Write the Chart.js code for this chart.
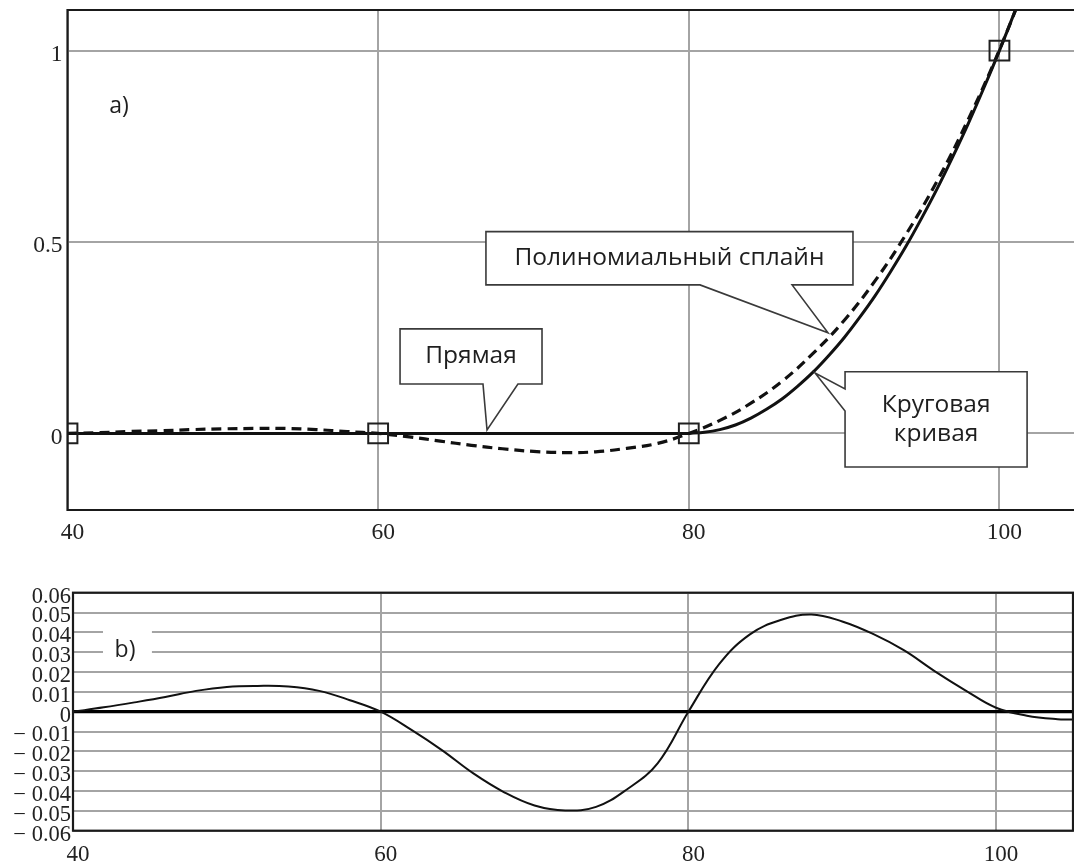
<!DOCTYPE html>
<html>
<head>
<meta charset="utf-8">
<script src="https://cdn.jsdelivr.net/npm/chart.js@4.4.1/dist/chart.umd.min.js"></script>
<style>
  html, body { margin: 0; padding: 0; background: #fff; overflow: hidden; }
  canvas { position: absolute; left: 0; }
  #top { top: 0; }
  #bottom { top: 560px; }
</style>
</head>
<body>
<canvas id="top" width="1074" height="560"></canvas>
<canvas id="bottom" width="1074" height="307"></canvas>
<script>
// ---------- data (a) ----------
const knotX = [40, 60, 80, 100];
const knotY = [0, 0, 0, 1];

const lineX = [40, 60, 80];           // Прямая
const lineY = [0, 0, 0];

const arcX = [80, 81, 82, 83, 84, 85, 86, 87, 88, 89, 90, 91, 92, 93, 94, 95, 96, 97, 98, 99, 100, 101, 102];   // Круговая кривая
const arcY = [0, 0.003, 0.010, 0.022, 0.040, 0.063, 0.090, 0.123, 0.160, 0.203, 0.250, 0.303, 0.360, 0.423, 0.490, 0.563, 0.640, 0.723, 0.810, 0.903, 1.000, 1.103, 1.210];

const splineX = [40, 42, 44, 46, 48, 50, 52, 54, 56, 58, 60, 62, 64, 66, 68, 70, 72, 74, 76, 78, 80, 82, 84, 86, 88, 90, 92, 94, 96, 98, 100, 102];   // Полиномиальный сплайн
const splineY = [0, 0.002, 0.005, 0.007, 0.010, 0.012, 0.013, 0.013, 0.010, 0.005, 0, -0.009, -0.020, -0.031, -0.040, -0.047, -0.050, -0.048, -0.039, -0.026, 0, 0.034, 0.079, 0.136, 0.209, 0.295, 0.399, 0.521, 0.660, 0.821, 1.002, 1.205];

// ---------- data (b) ----------
const diffX = [40, 42, 44, 46, 48, 50, 52, 54, 56, 58, 60, 62, 64, 66, 68, 70, 72, 74, 76, 78, 80, 82, 84, 86, 88, 90, 92, 94, 96, 98, 100, 102, 104, 105];
const diffY = [0, 0.0022, 0.0047, 0.0074, 0.0105, 0.0125, 0.0130, 0.0127, 0.0105, 0.0058, 0, -0.0092, -0.0195, -0.0310, -0.0405, -0.0473, -0.0498, -0.0480, -0.0392, -0.0260, 0, 0.0240, 0.0390, 0.0462, 0.0490, 0.0455, 0.0392, 0.0310, 0.0205, 0.0108, 0.0020, -0.0020, -0.0038, -0.0039];

// ---------- ticks ----------
const topXTicks = [40, 60, 80, 100];
const topYTicks = [0, 0.5, 1];
const topYLabels = ['0', '0.5', '1'];
const botXTicks = [40, 60, 80, 100];
const botYTicks = [-0.06, -0.05, -0.04, -0.03, -0.02, -0.01, 0, 0.01, 0.02, 0.03, 0.04, 0.05, 0.06];
const botYLabels = ['\u2212 0.06', '\u2212 0.05', '\u2212 0.04', '\u2212 0.03', '\u2212 0.02', '\u2212 0.01', '0', '0.01', '0.02', '0.03', '0.04', '0.05', '0.06'];

// ---------- annotations (data coordinates of plot a) ----------
const callouts = [
  { text: ['Полиномиальный сплайн'], box: [66.94, 0.527, 90.57, 0.388], side: 'bottom', base: [80.72, 86.65], tip: [88.96, 0.263] },
  { text: ['Прямая'], box: [61.41, 0.273, 70.55, 0.129], side: 'bottom', base: [66.75, 69.0], tip: [67.01, 0.009] },
  { text: ['Круговая', 'кривая'], box: [90.06, 0.161, 101.78, -0.0876], side: 'left', base: [0.1163, 0.0588], tip: [88.13, 0.158] }
];

const pts = (xs, ys) => xs.map((x, i) => ({ x: x, y: ys[i] }));
const serif = 'Liberation Serif';
const sans = 'Open Sans';
const GRID = '#a4a4a4';
const noPad = s => { s.paddingLeft = 0; s.paddingRight = 0; s.paddingTop = 0; s.paddingBottom = 0; };

const topPlugin = {
  id: 'topDecor',
  afterDatasetsDraw(chart) {
    const { ctx, chartArea: a, scales: { x, y } } = chart;
    const X = v => x.getPixelForValue(v), Y = v => y.getPixelForValue(v);
    ctx.save();
    // frame (left, top, bottom)
    ctx.strokeStyle = '#1a1a1a';
    ctx.lineWidth = 2.2;
    ctx.beginPath();
    ctx.moveTo(a.right + 2, a.top);
    ctx.lineTo(a.left, a.top);
    ctx.lineTo(a.left, a.bottom);
    ctx.lineTo(a.right + 2, a.bottom);
    ctx.stroke();

    // callouts
    callouts.forEach(c => {
      const L = X(c.box[0]), T = Y(c.box[1]), R = X(c.box[2]), B = Y(c.box[3]);
      const tx = X(c.tip[0]), ty = Y(c.tip[1]);
      ctx.beginPath();
      if (c.side === 'bottom') {
        const b1 = X(c.base[0]), b2 = X(c.base[1]);
        ctx.moveTo(L, T); ctx.lineTo(R, T); ctx.lineTo(R, B);
        ctx.lineTo(b2, B); ctx.lineTo(tx, ty); ctx.lineTo(b1, B);
        ctx.lineTo(L, B); ctx.closePath();
      } else {
        const s1 = Y(c.base[0]), s2 = Y(c.base[1]);
        ctx.moveTo(L, T); ctx.lineTo(R, T); ctx.lineTo(R, B); ctx.lineTo(L, B);
        ctx.lineTo(L, s2); ctx.lineTo(tx, ty); ctx.lineTo(L, s1);
        ctx.closePath();
      }
      ctx.fillStyle = '#fff';
      ctx.fill();
      ctx.strokeStyle = '#3a3a3a';
      ctx.lineWidth = 1.6;
      ctx.lineJoin = 'miter';
      ctx.stroke();
      ctx.fillStyle = '#1e1e1e';
      ctx.font = '24.5px "' + sans + '"';
      ctx.textAlign = 'center';
      ctx.textBaseline = 'middle';
      const cx = (L + R) / 2, cy = (T + B) / 2, lh = 29;
      c.text.forEach((t, i) => {
        ctx.fillText(t, cx, cy + (i - (c.text.length - 1) / 2) * lh);
      });
    });

    // a) label
    ctx.fillStyle = '#1e1e1e';
    ctx.font = '23px "' + sans + '"';
    ctx.textAlign = 'center';
    ctx.textBaseline = 'middle';
    ctx.fillText('a)', X(43.32), Y(0.853));
    ctx.restore();
  }
};

const botPlugin = {
  id: 'botDecor',
  afterDatasetsDraw(chart) {
    const { ctx, chartArea: a, scales: { x, y } } = chart;
    const X = v => x.getPixelForValue(v), Y = v => y.getPixelForValue(v);
    ctx.save();
    // b) label on white patch
    ctx.fillStyle = '#fff';
    ctx.fillRect(X(41.95), Y(0.0465), X(45.13) - X(41.95), Y(0.0239) - Y(0.0465));
    ctx.fillStyle = '#1e1e1e';
    ctx.font = '23px "' + sans + '"';
    ctx.textAlign = 'center';
    ctx.textBaseline = 'middle';
    ctx.fillText('b)', X(43.38), Y(0.031));
    // frame
    ctx.strokeStyle = '#1a1a1a';
    ctx.lineWidth = 2.2;
    ctx.strokeRect(a.left, a.top, a.right - a.left, a.bottom - a.top);
    ctx.restore();
  }
};

Chart.defaults.font.family = serif;

new Chart(document.getElementById('top'), {
  type: 'line',
  data: {
    datasets: [
      { label: 'knots', data: pts(knotX, knotY), showLine: false, pointStyle: 'rect', pointRadius: 14,
        pointBorderColor: '#1f1f1f', pointBorderWidth: 2, pointBackgroundColor: 'rgba(0,0,0,0)' },
      { label: 'Прямая', data: pts(lineX, lineY), borderColor: '#111', borderWidth: 3, pointRadius: 0, tension: 0 },
      { label: 'Круговая кривая', data: pts(arcX, arcY), borderColor: '#111', borderWidth: 3, pointRadius: 0, tension: 0.3 },
      { label: 'Полиномиальный сплайн', data: pts(splineX, splineY), borderColor: '#111', borderWidth: 3.2,
        borderDash: [10, 6], pointRadius: 0, tension: 0.4 }
    ]
  },
  options: {
    responsive: false, animation: false, events: [],
    layout: { autoPadding: false, padding: { top: 10, right: 0, left: 0, bottom: 0 } },
    plugins: { legend: { display: false }, tooltip: { enabled: false } },
    scales: {
      x: {
        type: 'linear', min: 40, max: 104.8,
        afterBuildTicks: s => { s.ticks = topXTicks.map(v => ({ value: v })); },
        afterFit: s => { s.height = 50; noPad(s); },
        grid: { color: GRID, lineWidth: 2, drawTicks: false },
        border: { display: false },
        ticks: { font: { family: serif, size: 23.5 }, color: '#222', padding: 9, labelOffset: 5, maxRotation: 0, autoSkip: false }
      },
      y: {
        type: 'linear', min: -0.2, max: 1.106,
        afterBuildTicks: s => { s.ticks = topYTicks.map(v => ({ value: v })); },
        afterFit: s => { s.width = 67.5; noPad(s); },
        grid: { color: GRID, lineWidth: 2, drawTicks: false },
        border: { display: false },
        ticks: { font: { family: serif, size: 23.5 }, color: '#222', padding: 5, labelOffset: 4, autoSkip: false,
          callback: (v, i) => topYLabels[i] }
      }
    }
  },
  plugins: [topPlugin]
});

new Chart(document.getElementById('bottom'), {
  type: 'line',
  data: {
    datasets: [
      { label: 'b', data: pts(diffX, diffY), borderColor: '#111', borderWidth: 2, pointRadius: 0, tension: 0.4 }
    ]
  },
  options: {
    responsive: false, animation: false, events: [],
    layout: { autoPadding: false, padding: { top: 32.7, right: 1, left: 0, bottom: 0 } },
    plugins: { legend: { display: false }, tooltip: { enabled: false } },
    scales: {
      x: {
        type: 'linear', min: 40, max: 105,
        afterBuildTicks: s => { s.ticks = botXTicks.map(v => ({ value: v })); },
        afterFit: s => { s.height = 36.3; noPad(s); },
        grid: { color: GRID, lineWidth: 2, drawTicks: false },
        border: { display: false },
        ticks: { font: { family: serif, size: 23 }, color: '#222', padding: 10, labelOffset: 5, maxRotation: 0, autoSkip: false }
      },
      y: {
        type: 'linear', min: -0.06, max: 0.06,
        afterBuildTicks: s => { s.ticks = botYTicks.map(v => ({ value: v })); },
        afterFit: s => { s.width = 73; noPad(s); },
        grid: {
          color: c => (c.tick && Math.abs(c.tick.value) < 1e-9) ? '#000' : GRID,
          lineWidth: c => (c.tick && Math.abs(c.tick.value) < 1e-9) ? 3.2 : 2,
          drawTicks: false
        },
        border: { display: false },
        ticks: { font: { family: serif, size: 22.5 }, color: '#222', padding: 2, labelOffset: 4, autoSkip: false,
          callback: (v, i) => botYLabels[i] }
      }
    }
  },
  plugins: [botPlugin]
});
</script>
</body>
</html>
